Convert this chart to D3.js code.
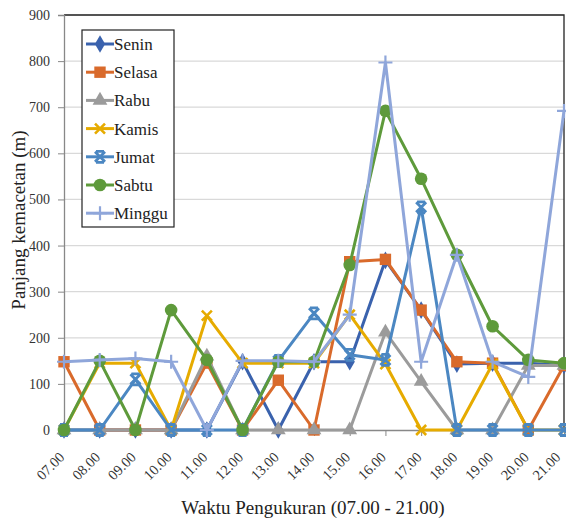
<!DOCTYPE html>
<html>
  <head>
    <meta charset="UTF-8" />
    <script src="https://cdnjs.cloudflare.com/ajax/libs/d3/7.8.5/d3.min.js"></script>
    <style>
      body { margin: 0; background: #fff; }
      .grid line { stroke: #d9d9d9; stroke-width: 1.2; }
      .axis path, .axis line { stroke: #888; }
    </style>
  </head>
  <body>
    <svg id="chart" width="566" height="520"></svg>
    <script>
      const hours = ["07.00", "08.00", "09.00", "10.00", "11.00", "12.00", "13.00",
        "14.00", "15.00", "16.00", "17.00", "18.00", "19.00", "20.00", "21.00"];
      const yTicks = [0, 100, 200, 300, 400, 500, 600, 700, 800, 900];

      const senin  = [0, 0, 0, 0, 0, 148, 0, 148, 148, 368, 260, 143, 145, 145, 140];
      const selasa = [148, 0, 0, 0, 145, 0, 108, 0, 365, 370, 260, 148, 145, 0, 140];
      const rabu   = [0, 0, 0, 0, 160, 0, 0, 0, 0, 212, 105, 0, 0, 140, 140];
      const kamis  = [0, 145, 145, 0, 248, 145, 145, 145, 250, 143, 0, 0, 143, 0, 0];
      const jumat  = [0, 0, 110, 0, 0, 0, 150, 253, 163, 152, 483, 0, 0, 0, 0];
      const sabtu  = [0, 150, 0, 260, 152, 0, 148, 148, 358, 692, 545, 380, 225, 152, 145];
      const minggu = [148, 152, 155, 148, 0, 150, 150, 148, 250, 797, 148, 380, 148, 115, 692];

      const seriesNames = ["Senin", "Selasa", "Rabu", "Kamis", "Jumat", "Sabtu", "Minggu"];
      const seriesValues = [senin, selasa, rabu, kamis, jumat, sabtu, minggu];
      const colors = ["#3a62ad", "#d96a2b", "#9b9b9b", "#e6ab00", "#4b87c2", "#5e9a3b", "#8fa6da"];
      const shapes = ["diamond", "square", "triangle", "x", "star", "circle", "plus"];

      const serifFont = "'Liberation Serif', 'DejaVu Serif', serif";

      const svg = d3.select("#chart");
      const plotL = 64, plotR = 564, plotT = 15, plotB = 430;

      const x = d3.scalePoint().domain(hours).range([plotL, plotR]);
      const y = d3.scaleLinear().domain([0, 900]).range([plotB, plotT]);

      // grid
      svg.append("g").attr("class", "grid")
        .selectAll("line").data(yTicks.slice(1)).enter().append("line")
        .attr("x1", plotL).attr("x2", plotR)
        .attr("y1", d => y(d)).attr("y2", d => y(d));

      // plot border top/right
      svg.append("path")
        .attr("d", `M${plotL},${plotT}H${plotR}V${plotB}`)
        .attr("fill", "none").attr("stroke", "#222").attr("stroke-width", 1.3);

      // axes
      const yAxis = svg.append("g").attr("class", "axis")
        .attr("transform", `translate(${plotL},0)`)
        .call(d3.axisLeft(y).tickValues(yTicks).tickSize(6).tickPadding(8));
      yAxis.select(".domain").attr("stroke-width", 1.3);
      yAxis.selectAll("text")
        .style("font-family", serifFont).style("font-size", "14px").attr("fill", "#333");

      const xAxis = svg.append("g").attr("class", "axis")
        .attr("transform", `translate(0,${plotB})`)
        .call(d3.axisBottom(x).tickSize(6).tickSizeOuter(0));
      xAxis.select(".domain").attr("stroke-width", 1.3);
      xAxis.selectAll("text")
        .style("font-family", serifFont).style("font-size", "14.5px").attr("fill", "#333")
        .attr("text-anchor", "end")
        .attr("y", 0).attr("dy", 0)
        // last label nudged in so it stays on the page
        .attr("transform", (d, i) => `translate(${i === hours.length - 1 ? -3 : 1},28) rotate(-45)`);

      // titles
      svg.append("text")
        .attr("x", 313).attr("y", 514)
        .attr("text-anchor", "middle")
        .style("font-family", serifFont).style("font-size", "19px").attr("fill", "#222")
        .text("Waktu Pengukuran (07.00 - 21.00)");
      svg.append("text")
        .attr("transform", "translate(25,220) rotate(-90)")
        .attr("text-anchor", "middle")
        .style("font-family", serifFont).style("font-size", "19px").attr("fill", "#222")
        .text("Panjang kemacetan (m)");

      function drawMarker(g, shape, color) {
        if (shape === "diamond") {
          g.append("path").attr("d", d3.symbol(d3.symbolDiamond, 90)()).attr("fill", color);
        } else if (shape === "square") {
          g.append("path").attr("d", d3.symbol(d3.symbolSquare, 130)()).attr("fill", color);
        } else if (shape === "triangle") {
          g.append("path").attr("d", d3.symbol(d3.symbolTriangle, 95)()).attr("fill", color);
        } else if (shape === "circle") {
          g.append("path").attr("d", d3.symbol(d3.symbolCircle, 125)()).attr("fill", color);
        } else if (shape === "x") {
          g.append("path").attr("d", "M-5,-5L5,5M-5,5L5,-5")
            .attr("stroke", color).attr("stroke-width", 2.6).attr("fill", "none");
        } else if (shape === "star") {
          g.append("path").attr("d", "M-5,-5L5,5M-5,5L5,-5M-4,-5.5H4M-4,5.5H4")
            .attr("stroke", color).attr("stroke-width", 2.8).attr("fill", "none");
        } else if (shape === "plus") {
          g.append("path").attr("d", "M-7,0H7M0,-7V7")
            .attr("stroke", color).attr("stroke-width", 2.2).attr("fill", "none");
        }
      }

      const line = d3.line().x((d, i) => x(hours[i])).y(d => y(d));

      seriesValues.forEach((vals, s) => {
        const g = svg.append("g");
        g.append("path").datum(vals)
          .attr("d", line)
          .attr("fill", "none")
          .attr("stroke", colors[s])
          .attr("stroke-width", 3)
          .attr("stroke-linejoin", "round");
        vals.forEach((v, i) => {
          const m = g.append("g").attr("transform", `translate(${x(hours[i])},${y(v)})`);
          drawMarker(m, shapes[s], colors[s]);
        });
      });

      // legend
      const lg = svg.append("g").attr("transform", "translate(82,30)");
      lg.append("rect").attr("width", 92).attr("height", 197)
        .attr("fill", "#fff").attr("stroke", "#222").attr("stroke-width", 1.2);
      seriesNames.forEach((name, s) => {
        const ry = 14 + s * 28.2;
        const row = lg.append("g").attr("transform", `translate(0,${ry})`);
        row.append("line").attr("x1", 4).attr("x2", 32)
          .attr("stroke", colors[s]).attr("stroke-width", 3);
        const m = row.append("g").attr("transform", "translate(18,0)");
        drawMarker(m, shapes[s], colors[s]);
        row.append("text").attr("x", 32).attr("y", 0).attr("dy", "0.35em")
          .style("font-family", serifFont).style("font-size", "17px").attr("fill", "#222")
          .text(name);
      });
    </script>
  </body>
</html>
